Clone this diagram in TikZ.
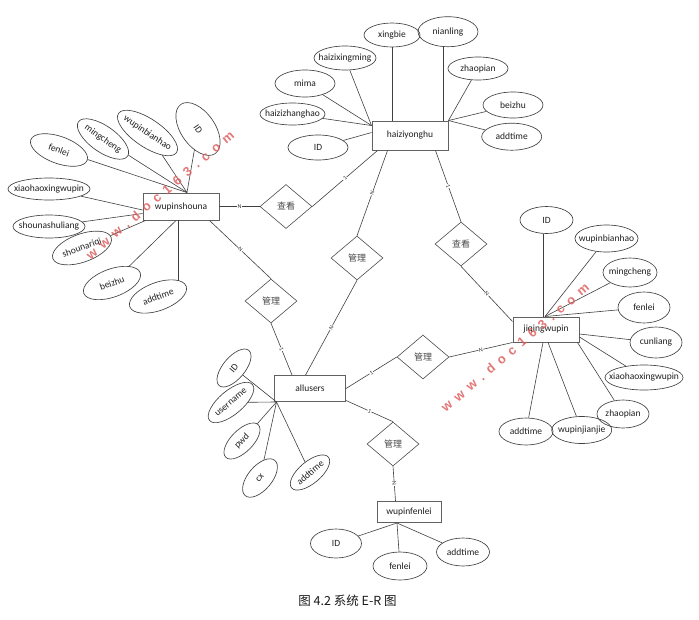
\documentclass[tikz,border=0pt]{standalone}
\usepackage{fontspec}
\setmainfont{Carlito}
\newfontfamily\cjk{Noto Sans CJK SC}
\newfontfamily\wmfont{Liberation Sans}[LetterSpace=48]
\usetikzlibrary{shapes.geometric,calc}
\newcommand\ztxt[1]{\makebox[0pt]{#1}}
\tikzset{
  ent/.style={rectangle, draw=black!62, line width=0.95pt, inner sep=0pt,
    font=\fontsize{9.5}{10}\selectfont, text=black!88},
  attr/.style={ellipse, draw=black!75, line width=0.65pt, inner sep=0pt,
    font=\fontsize{9.5}{10}\selectfont, text=black!88},
  rel/.style={diamond, draw=black!70, line width=0.6pt, inner sep=0pt,
    minimum width=52pt, minimum height=44pt,
    font=\cjk\fontsize{9}{9}\selectfont, text=black!72},
  lnk/.style={draw=black!75, line width=0.6pt},
  card/.style={font=\fontsize{6}{6}\selectfont, fill=white, inner sep=0.5pt, text=black!80},
  wm/.style={font=\wmfont\bfseries\fontsize{13}{13}\selectfont,
    text={rgb,255:red,222;green,95;blue,95}, opacity=0.85}
}
\begin{document}
\begin{tikzpicture}[x=1pt,y=-1pt]
\useasboundingbox (0,0) rectangle (699,619);

% ---------- entities ----------
\node[ent, minimum width=76pt, minimum height=29pt] (hz) at (410,135.5) {haiziyonghu};
\node[ent, minimum width=76pt, minimum height=27pt] (ws) at (181,206.5) {wupinshouna};
\node[ent, minimum width=66pt, minimum height=25pt] (jq) at (546,329.5) {jiqingwupin};
\node[ent, minimum width=71pt, minimum height=26pt] (au) at (310,388.5) {allusers};
\node[ent, minimum width=64pt, minimum height=21pt] (wf) at (409,512) {wupinfenlei};

% ---------- relationships ----------
\node[rel] (ck1) at (286,206.5) {\ztxt{查看}};
\node[rel] (gl1) at (357,258) {\ztxt{管理}};
\node[rel] (ck2) at (461,244) {\ztxt{查看}};
\node[rel] (gl2) at (271,301) {\ztxt{管理}};
\node[rel] (gl3) at (423,357) {\ztxt{管理}};
\node[rel] (gl4) at (393,444) {\ztxt{管理}};

% ---------- haiziyonghu attributes ----------
\node[attr, minimum width=56pt, minimum height=24pt] (hxb) at (392,35) {\ztxt{xingbie}};
\node[attr, minimum width=60pt, minimum height=30pt] (hnl) at (448,31.7) {\ztxt{nianling}};
\node[attr, minimum width=62pt, minimum height=24pt] (hxm) at (345,58) {\ztxt{haizixingming}};
\node[attr, minimum width=60pt, minimum height=27pt] (hmm) at (305,83.5) {\ztxt{mima}};
\node[attr, minimum width=65pt, minimum height=22pt] (hzh) at (292.5,114) {\ztxt{haizizhanghao}};
\node[attr, minimum width=60pt, minimum height=25pt] (hid) at (318,147.5) {\ztxt{ID}};
\node[attr, minimum width=60pt, minimum height=23pt] (hzp) at (478,68.5) {\ztxt{zhaopian}};
\node[attr, minimum width=60pt, minimum height=26pt] (hbz) at (513,105) {\ztxt{beizhu}};
\node[attr, minimum width=60pt, minimum height=27pt] (hat) at (511.7,136.7) {\ztxt{addtime}};

\draw[lnk] (hxb.south) -- (hxb.south |- hz.north);
\draw[lnk] ([xshift=-5pt]hnl.south) -- ([xshift=-5pt]hnl.south |- hz.north);
\foreach \n in {hxm,hmm,hzh} \draw[lnk] (\n) -- ([yshift=-5pt]hz.north west);
\draw[lnk] (hid) -- ([yshift=-12pt]hz.north west);
\foreach \n in {hzp,hbz,hat} \draw[lnk] (\n) -- (hz.north east);

% ---------- wupinshouna attributes ----------
\node[attr, minimum width=60pt, minimum height=27pt, rotate=-20] (wfl) at (59,150) {\ztxt{fenlei}};
\node[attr, minimum width=60pt, minimum height=26pt, rotate=-35] (wmc) at (103,139) {\ztxt{mingcheng}};
\node[attr, minimum width=70pt, minimum height=28pt, rotate=-34] (wbh) at (147.5,133) {\ztxt{wupinbianhao}};
\node[attr, minimum width=60pt, minimum height=34pt, rotate=-55] (wid) at (198,129) {\ztxt{ID}};
\node[attr, minimum width=82pt, minimum height=22pt] (wxh) at (49,189) {\ztxt{xiaohaoxingwupin}};
\node[attr, minimum width=72pt, minimum height=23pt] (wsl) at (49,226.5) {\ztxt{shounashuliang}};
\node[attr, minimum width=62pt, minimum height=28pt, rotate=20] (wrq) at (82,248) {\ztxt{shounariqi}};
\node[attr, minimum width=60pt, minimum height=28pt, rotate=20] (wbz) at (112,283) {\ztxt{beizhu}};
\node[attr, minimum width=60pt, minimum height=28pt, rotate=20] (wat) at (158,296.5) {\ztxt{addtime}};
\coordinate (wsT) at ([xshift=6pt]ws.north);
\coordinate (watT) at (178,280.5);

\foreach \n in {wfl,wmc,wbh,wid} \draw[lnk] (\n) -- (wsT);
\draw[lnk] (wxh) -- ([yshift=-3.5pt]ws.west);
\draw[lnk] (wsl) -- ([yshift=-7pt]ws.west);
\draw[lnk] (wrq) -- ([xshift=3pt]ws.south west);
\draw[lnk] (wbz) -- ([xshift=-5pt]ws.south);
\draw[lnk] ([xshift=-3pt]ws.south) -- (watT);

% ---------- jiqingwupin attributes ----------
\node[attr, minimum width=53pt, minimum height=27pt] (jid) at (546.5,220) {\ztxt{ID}};
\node[attr, minimum width=63pt, minimum height=27pt] (jbh) at (606.5,238.5) {\ztxt{wupinbianhao}};
\node[attr, minimum width=54pt, minimum height=29pt] (jmc) at (630,272.5) {\ztxt{mingcheng}};
\node[attr, minimum width=52pt, minimum height=31pt] (jfl) at (644,307.5) {\ztxt{fenlei}};
\node[attr, minimum width=52pt, minimum height=31pt] (jcl) at (656,342.5) {\ztxt{cunliang}};
\node[attr, minimum width=78pt, minimum height=25pt] (jxh) at (644,377.5) {\ztxt{xiaohaoxingwupin}};
\node[attr, minimum width=52pt, minimum height=28pt] (jzp) at (623,414) {\ztxt{zhaopian}};
\node[attr, minimum width=60pt, minimum height=27pt] (jjj) at (581.7,430) {\ztxt{wupinjianjie}};
\node[attr, minimum width=54pt, minimum height=27pt] (jat) at (526,431.5) {\ztxt{addtime}};
\coordinate (jqT) at ([xshift=-1pt]jq.north);

\draw[lnk] ([xshift=-3pt]jq.north) -- ([xshift=-3pt]jq.north |- jid.south);
\foreach \n in {jbh,jmc,jfl} \draw[lnk] (\n) -- (jqT);
\draw[lnk] (jcl) -- ([yshift=-4.5pt]jq.east);
\draw[lnk] (jxh) -- ([yshift=-7.5pt]jq.east);
\draw[lnk] (jzp) -- ([xshift=-2pt]jq.south east);
\draw[lnk] (jjj) -- ([xshift=2pt]jq.south);
\draw[lnk] (jat) -- ([xshift=-3pt]jq.south);

% ---------- allusers attributes ----------
\node[attr, minimum width=46pt, minimum height=22pt, rotate=50] (aid) at (234,368) {\ztxt{ID}};
\node[attr, minimum width=56pt, minimum height=24pt, rotate=40] (aun) at (231,402.5) {\ztxt{username}};
\node[attr, minimum width=46pt, minimum height=22pt, rotate=45] (apw) at (242,441) {\ztxt{pwd}};
\node[attr, minimum width=46pt, minimum height=24pt, rotate=50] (acx) at (260,478) {\ztxt{cx}};
\node[attr, minimum width=48pt, minimum height=22pt, rotate=40] (aat) at (310,472.5) {\ztxt{addtime}};
\coordinate (auC) at ([xshift=2.5pt]au.south west);
\foreach \n in {aid,aun,apw,acx,aat} \draw[lnk] (\n) -- (auC);

% ---------- wupinfenlei attributes ----------
\node[attr, minimum width=51pt, minimum height=29pt] (fid) at (336,543.5) {\ztxt{ID}};
\node[attr, minimum width=54pt, minimum height=28pt] (ffl) at (400,566) {\ztxt{fenlei}};
\node[attr, minimum width=53pt, minimum height=28pt] (fat) at (463,552) {\ztxt{addtime}};
\coordinate (wfC) at ([xshift=-12pt]wf.south);
\foreach \n in {fid,ffl,fat} \draw[lnk] (\n) -- (wfC);

% ---------- relationship connectors ----------
\draw[lnk] (ws.east) -- node[card]{N} (ck1.west);
\draw[lnk] ([xshift=6pt]hz.south west) -- node[card,sloped]{1} (ck1.east);
\draw[lnk] ([xshift=16pt]hz.south west) -- node[card,sloped]{N} (gl1.north);
\draw[lnk] ([xshift=-13pt]hz.south east) -- node[card,sloped]{1} (ck2.north);
\draw[lnk] (ck2.south) -- node[card,sloped]{N} ([yshift=-5pt]jq.north west);
\draw[lnk] ([xshift=-10pt]ws.south east) -- node[card,sloped]{N} (gl2.north);
\draw[lnk] (gl2.south) -- node[card,sloped]{1} ([xshift=18pt]au.north west);
\draw[lnk] (gl1.south) -- node[card,sloped]{N} ([xshift=31.5pt]au.north west);
\draw[lnk] (au.east) -- node[card,sloped]{1} (gl3.west);
\draw[lnk] (gl3.east) -- node[card,sloped]{N} (jq.south west);
\draw[lnk] ([yshift=1.5pt]au.south east) -- node[card,sloped]{1} (gl4.north);
\draw[lnk] (gl4.south) -- node[card,sloped]{N} ([xshift=19pt]wf.north west);

% ---------- caption ----------
\node[font=\cjk\fontsize{12.5}{13}\selectfont, text=black!90] (cap) at (347.5,601) {图 4.2 系统 E-R 图};

% ---------- watermarks ----------
\node[wm, rotate=40.5] (wm1) at (160,195) {www.doc163.com};
\node[wm, rotate=40.5] (wm2) at (515,347.5) {www.doc163.com};
\end{tikzpicture}
\end{document}
